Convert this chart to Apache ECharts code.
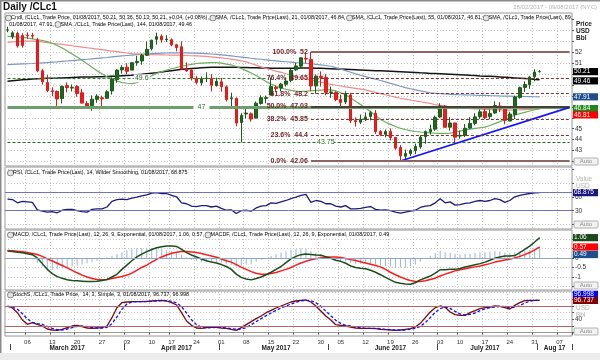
<!DOCTYPE html>
<html><head><meta charset="utf-8">
<script src="https://cdn.jsdelivr.net/npm/echarts@6/dist/echarts.min.js"></script>
<style>html,body{margin:0;padding:0;background:#fff}#c{width:600px;height:360px}</style>
</head><body><div id="c"></div>
<script>
const dates = ['02-28','03-01','03-02','03-03','03-06','03-07','03-08','03-09','03-10','03-13','03-14','03-15','03-16','03-17','03-20','03-21','03-22','03-23','03-24','03-27','03-28','03-29','03-30','03-31',
'04-03','04-04','04-05','04-06','04-07','04-10','04-11','04-12','04-13','04-17','04-18','04-19','04-20','04-21','04-24','04-25','04-26','04-27','04-28',
'05-01','05-02','05-03','05-04','05-05','05-08','05-09','05-10','05-11','05-12','05-15','05-16','05-17','05-18','05-19','05-22','05-23','05-24','05-25','05-26','05-30','05-31',
'06-01','06-02','06-05','06-06','06-07','06-08','06-09','06-12','06-13','06-14','06-15','06-16','06-19','06-20','06-21','06-22','06-23','06-26','06-27','06-28','06-29','06-30',
'07-03','07-05','07-06','07-07','07-10','07-11','07-12','07-13','07-14','07-17','07-18','07-19','07-20','07-21','07-24','07-25','07-26','07-27','07-28','07-31',
'08-01','08-02','08-03','08-04','08-07','08-08','08-09'];
const weekStarts = ['03-06','03-13','03-20','03-27','04-03','04-10','04-17','04-24','05-01','05-08','05-15','05-22','05-30','06-05','06-12','06-19','06-26','07-03','07-10','07-17','07-24','07-31','08-07'];
const monthStarts = ['03-01','04-03','05-01','06-01','07-03','08-01'];
const monthLabelDates = ['03-16','04-18','05-16','06-19','07-17','08-04'];
const monthLabelTexts = ['March 2017','April 2017','May 2017','June 2017','July 2017','Aug 17'];

const openP = [54.00,53.40,53.70,53.50,53.55,53.50,53.10,50.28,49.21,48.47,
48.41,47.75,48.93,48.71,48.85,48.28,47.31,47.11,47.68,47.83,
47.78,48.45,49.48,50.37,50.62,50.35,51.04,51.18,51.70,52.30,
53.16,53.44,53.13,53.12,52.66,52.48,50.43,50.35,49.59,49.19,
49.58,49.59,48.94,49.28,48.82,47.73,47.77,45.56,46.35,46.36,
45.97,47.30,47.77,48.08,48.77,48.71,49.06,49.41,50.38,50.71,
51.42,51.32,48.91,49.79,49.69,48.30,48.30,47.67,47.44,48.08,
45.74,45.60,45.83,46.11,46.41,44.74,44.49,44.75,44.21,43.28,
42.50,42.73,43.02,43.35,44.27,44.73,44.96,46.07,47.06,45.14,
45.53,44.33,44.40,45.06,45.49,46.09,46.58,46.11,46.44,47.07,
46.78,45.71,46.29,47.86,48.77,49.02,49.74,50.21];
const highP = [54.30,53.90,53.85,53.70,53.80,53.75,53.30,50.46,49.90,48.78,
48.49,48.95,49.23,49.04,48.99,48.64,47.53,48.04,48.15,48.02,
48.51,49.69,50.43,50.80,50.98,51.08,51.65,51.83,52.94,53.12,
53.76,53.61,53.53,53.25,52.75,52.98,51.07,50.40,49.82,49.77,
50.14,49.99,49.66,49.64,48.95,48.29,47.87,46.44,47.00,46.49,
47.49,48.05,48.03,49.66,48.95,49.19,49.63,50.47,51.00,51.51,
51.94,52.00,49.94,50.23,50.00,48.85,48.42,48.10,48.43,48.28,
46.03,46.29,46.49,46.63,46.71,44.87,44.94,45.03,44.25,43.52,
43.10,43.18,43.64,44.41,44.83,45.36,46.21,47.32,47.16,46.05,
45.54,44.83,45.43,46.05,46.42,46.76,46.87,46.73,47.50,47.43,
46.90,46.54,48.01,48.84,49.32,49.81,50.43,50.36];
const lowP = [53.80,53.20,52.40,52.40,53.20,53.20,50.16,49.03,48.34,47.97,
47.09,47.31,48.33,48.40,47.92,47.30,47.01,46.64,47.37,46.99,
47.70,48.12,49.19,50.03,49.98,50.33,50.75,50.84,51.65,52.14,
52.68,52.85,52.92,52.52,52.06,50.35,50.19,49.40,49.04,48.94,
49.26,48.40,48.85,48.37,47.49,47.06,45.23,43.76,45.94,45.65,
45.96,47.19,47.31,48.04,48.34,48.41,48.85,49.24,50.27,50.50,
51.01,48.45,48.19,48.84,48.05,47.83,47.51,47.02,47.25,45.52,
45.20,45.42,45.71,45.77,44.53,44.36,44.21,43.93,43.09,42.06,
42.25,42.51,42.67,43.17,43.63,44.46,44.81,45.97,45.11,44.82,
43.75,44.09,44.25,44.98,45.32,45.90,45.85,45.86,46.35,46.53,
45.40,45.67,45.89,47.74,48.35,48.64,49.34,50.13];
const closeP = [54.02,53.75,52.55,52.60,53.50,53.45,50.28,49.28,48.49,48.40,
47.72,48.86,48.75,48.78,48.22,47.34,47.04,47.70,47.97,47.73,
48.37,49.51,50.35,50.60,50.24,51.03,51.15,51.70,52.24,53.08,
53.40,53.11,53.18,52.65,52.41,50.44,50.27,49.62,49.23,49.56,
49.62,48.97,49.33,48.84,47.66,47.82,45.52,46.22,46.43,45.88,
47.33,47.83,47.84,48.85,48.66,49.07,49.35,50.33,50.73,51.47,
51.36,48.90,49.80,49.66,48.32,48.36,47.66,47.40,48.19,45.72,
45.64,45.83,46.08,46.46,44.73,44.46,44.74,44.20,43.23,42.53,
42.74,43.01,43.38,44.24,44.74,44.93,46.04,47.07,45.13,45.52,
44.23,44.40,45.04,45.49,46.08,46.54,46.02,46.40,47.12,46.79,
45.77,46.34,47.89,48.75,49.04,49.71,50.17,50.21];

const sma21 = [53.42,53.4,53.37,53.33,53.28,53.2,53.13,53.05,52.95,52.8,
52.6,52.37,52.1,51.82,51.54,51.25,50.93,50.62,50.3,50.02,
49.75,49.53,49.35,49.22,49.15,49.12,49.2,49.38,49.6,49.83,
50.05,50.2,50.35,50.47,50.59,50.7,50.79,50.87,50.95,50.99,
51.01,51.03,51.03,50.98,50.9,50.82,50.68,50.5,50.3,50.08,
49.85,49.58,49.3,49.08,48.89,48.72,48.6,48.5,48.44,48.4,
48.42,48.46,48.5,48.53,48.55,48.55,48.45,48.28,48.1,47.8,
47.5,47.2,46.9,46.55,46.2,45.85,45.62,45.4,45.2,45.04,
44.93,44.83,44.75,44.7,44.66,44.62,44.59,44.58,44.58,44.6,
44.68,44.78,44.89,44.96,45.03,45.09,45.15,45.3,45.47,45.65,
45.84,46.04,46.25,46.38,46.5,46.62,46.73,46.84];
const sma55 = [52.88,52.92,52.95,52.98,53.0,53.0,52.97,52.92,52.86,52.8,
52.75,52.69,52.63,52.57,52.51,52.45,52.39,52.33,52.27,52.21,
52.15,52.09,52.03,51.97,51.91,51.85,51.83,51.81,51.79,51.77,
51.75,51.74,51.73,51.72,51.71,51.7,51.68,51.66,51.64,51.62,
51.6,51.56,51.51,51.46,51.41,51.35,51.28,51.2,51.1,50.95,
50.8,50.65,50.5,50.38,50.26,50.15,50.02,49.9,49.77,49.65,
49.55,49.45,49.35,49.25,49.15,49.05,48.97,48.9,48.82,48.75,
48.68,48.61,48.54,48.43,48.32,48.21,48.1,47.99,47.88,47.78,
47.7,47.62,47.54,47.46,47.38,47.3,47.2,47.13,47.06,46.99,
46.94,46.9,46.87,46.84,46.81,46.78,46.76,46.74,46.72,46.71,
46.7,46.7,46.71,46.72,46.74,46.76,46.79,46.81];
const sma89 = [50.85,50.87,50.89,50.91,50.93,50.95,50.98,51.01,51.04,51.07,
51.1,51.14,51.18,51.22,51.26,51.3,51.34,51.38,51.42,51.46,
51.5,51.55,51.6,51.64,51.68,51.72,51.76,51.79,51.82,51.85,
51.88,51.9,51.91,51.92,51.93,51.93,51.92,51.9,51.89,51.87,
51.85,51.82,51.78,51.74,51.69,51.64,51.59,51.54,51.49,51.43,
51.38,51.34,51.29,51.24,51.2,51.15,51.11,51.07,51.03,51.0,
50.97,50.93,50.88,50.83,50.77,50.7,50.58,50.44,50.3,50.15,
50.0,49.88,49.76,49.64,49.52,49.4,49.27,49.14,49.01,48.88,
48.75,48.65,48.55,48.45,48.36,48.28,48.24,48.2,48.17,48.14,
48.12,48.1,48.09,48.08,48.06,48.05,48.04,48.02,48.01,47.99,
47.98,47.97,47.96,47.95,47.94,47.93,47.92,47.91];
const sma144 = [49.33,49.38,49.42,49.46,49.5,49.54,49.56,49.58,49.6,49.61,
49.62,49.64,49.66,49.68,49.7,49.71,49.72,49.73,49.74,49.75,
49.76,49.78,49.8,49.83,49.86,49.89,49.93,49.97,50.02,50.07,
50.12,50.18,50.24,50.3,50.36,50.42,50.46,50.5,50.53,50.56,
50.58,50.6,50.6,50.61,50.61,50.6,50.6,50.59,50.58,50.57,
50.56,50.55,50.54,50.53,50.52,50.51,50.51,50.52,50.53,50.54,
50.55,50.54,50.53,50.52,50.5,50.48,50.46,50.44,50.42,50.4,
50.38,50.36,50.34,50.32,50.3,50.28,50.26,50.24,50.22,50.2,
50.18,50.16,50.13,50.1,50.08,50.05,50.03,50.01,49.99,49.97,
49.95,49.93,49.9,49.87,49.85,49.82,49.8,49.78,49.76,49.73,
49.7,49.67,49.64,49.61,49.58,49.55,49.5,49.46];

const rsi = [55,54,47,50,49,48,32,29,27,28,
25.6,31,33,33,30,28,27,33,34,34,
38,50,54,55,54,57,59,62,64,68,
69,67,67,63,60,47,45,40,39,41,
41,38,40,35,31,32,24,30,31,29,
36,40,41,47,46,49,52,56,59,63,
65,48,52,50,45,45,40,38,41,34,
34,35,37,39,33,31,32,30,27,25,
27,29,31,37,40,41,47,56,47,49,
42,43,46,47,50,52,50,52,56,54,
48,52,60,63,65,67,68.5,68.875];

const macd = [0.36,0.34,0.3,0.27,0.22,0.17,0.0,-0.3,-0.6,-0.82,
-0.98,-1.07,-1.14,-1.18,-1.2,-1.22,-1.24,-1.24,-1.22,-1.18,
-1.13,-1.0,-0.86,-0.6,-0.38,-0.15,0.05,0.2,0.33,0.44,
0.53,0.58,0.62,0.62,0.6,0.45,0.28,0.15,0.05,-0.06,
-0.15,-0.22,-0.27,-0.35,-0.45,-0.6,-0.85,-1.02,-1.1,-1.15,
-1.08,-1.0,-0.88,-0.75,-0.6,-0.45,-0.25,-0.05,0.08,0.17,
0.2,0.18,0.15,0.14,0.06,-0.02,-0.12,-0.18,-0.28,-0.42,
-0.5,-0.54,-0.57,-0.65,-0.75,-0.88,-1.02,-1.15,-1.28,-1.33,
-1.36,-1.38,-1.3,-1.15,-1.05,-0.95,-0.8,-0.62,-0.62,-0.6,
-0.6,-0.55,-0.48,-0.42,-0.36,-0.3,-0.22,-0.12,-0.02,0.05,
0.1,0.1,0.12,0.28,0.45,0.62,0.83,1.06];
const macdSignal = [0.39,0.37,0.35,0.32,0.28,0.23,0.18,0.08,-0.05,-0.16,
-0.28,-0.4,-0.52,-0.65,-0.78,-0.9,-1.0,-1.08,-1.13,-1.15,
-1.13,-1.08,-1.03,-0.97,-0.9,-0.8,-0.65,-0.5,-0.38,-0.22,
-0.08,0.05,0.15,0.24,0.3,0.34,0.34,0.31,0.28,0.23,
0.16,0.1,0.03,-0.06,-0.15,-0.22,-0.35,-0.48,-0.6,-0.72,
-0.8,-0.85,-0.86,-0.82,-0.76,-0.68,-0.6,-0.5,-0.38,-0.27,
-0.18,-0.1,-0.04,0.0,0.03,0.05,0.05,0.02,-0.03,-0.09,
-0.14,-0.2,-0.27,-0.33,-0.4,-0.47,-0.6,-0.75,-0.88,-1.0,
-1.1,-1.18,-1.23,-1.24,-1.2,-1.13,-1.06,-0.95,-0.85,-0.76,
-0.68,-0.62,-0.57,-0.52,-0.47,-0.42,-0.36,-0.3,-0.22,-0.16,
-0.11,-0.07,0.0,0.08,0.17,0.28,0.42,0.57];
const macdHist = [-0.04,-0.04,-0.05,-0.05,-0.06,-0.08,-0.25,-0.45,-0.6,-0.62,
-0.6,-0.55,-0.5,-0.45,-0.4,-0.35,-0.28,-0.22,-0.15,-0.08,
0.03,0.1,0.2,0.3,0.4,0.45,0.5,0.52,0.53,0.52,
0.5,0.45,0.4,0.35,0.3,0.15,0.02,-0.1,-0.15,-0.2,
-0.22,-0.24,-0.24,-0.26,-0.3,-0.36,-0.45,-0.4,-0.35,-0.3,
-0.2,-0.1,0.0,0.1,0.2,0.28,0.35,0.42,0.47,0.5,
0.48,0.35,0.25,0.18,0.1,0.0,-0.08,-0.15,-0.2,-0.28,
-0.3,-0.3,-0.3,-0.32,-0.35,-0.4,-0.42,-0.45,-0.48,-0.5,
-0.5,-0.45,-0.35,-0.2,-0.05,0.1,0.25,0.38,0.3,0.25,
0.2,0.18,0.2,0.22,0.25,0.28,0.3,0.32,0.35,0.33,
0.28,0.25,0.3,0.35,0.38,0.4,0.45,0.49];

const stochK = [80,74,60,38,25,30,25,20,11,8,
7,10,15,20,22,18,14,13,14,15,
20,45,75,90,92,93,93,93,94,95,
96,97,95,90,83,60,35,22,14,13,
15,17,16,14,13,10,7,15,24,33,
42,50,60,67,74,80,86,92,95,97,
98,92,80,65,50,38,24,22,20,17,
14,13,13,13,12,10,9,8,7,8,
10,12,17,28,45,62,75,80,76,62,
54,52,52,60,66,72,75,77,80,79,
75,71,82,90,96,97,97,96.737];
const stochD = [79,77,70,57,41,31,27,25,19,13,
9,8,11,15,19,20,18,15,14,14,
16,27,47,70,86,92,93,93,93,94,
95,96,96,94,89,78,59,39,24,16,
14,15,16,16,14,12,10,11,15,24,
33,42,51,59,67,74,80,86,91,95,
97,96,90,79,65,51,37,28,22,20,
17,15,13,13,13,12,10,9,8,8,
8,10,13,19,30,45,61,72,77,73,
64,56,53,55,59,66,71,75,77,79,
78,75,76,81,89,94,97,96.998];

const priceTickLabels = [52,51,45,44,43];
const rsiTickLabels = [60,30];
const macdTickLabels = [0,-0.5,-1];
const stochTickLabels = [40];

const fibLevels = [52,49.65,48.2,47.03,45.85,44.4,42.06];
const fibNames = ['100.0%','76.4%','61.8%','50.0%','38.2%','23.6%','0.0%'];
const fibTexts = ['52','49.65','48.2','47.03','45.85','44.4','42.06'];
const supportLevels = [47,49.6,43.75];
const supportTexts = ['47','49.6','43.75'];
const trendStart = ['06-21',42.06];
const trendEnd = ['08-09',46.95];

const FONT = '"Liberation Sans", Arial, sans-serif';
const LEG = 5.4;
const chart = echarts.init(document.getElementById('c'));
const last = a => a[a.length-1];
const candle = openP.map((o,i)=>[o, closeP[i], lowP[i], highP[i]]);
const dotted = {color:'#c4c4c4', type:[1,2], width:1};

const grids = [
  {left:5,right:28,top:13,height:153},
  {left:5,right:28,top:167,height:62},
  {left:5,right:28,top:230,height:60},
  {left:5,right:28,top:291,height:45}
].map(g=>Object.assign(g,{show:true,borderColor:'#9a9a9a',borderWidth:1,backgroundColor:'#fff'}));

function xAx(i, showLabels){
  return {type:'category',gridIndex:i,data:dates,boundaryGap:true,
    axisLine:{show:showLabels,lineStyle:{color:'#9a9a9a'}},
    axisTick:{show:showLabels,interval:(k,v)=>weekStarts.includes(v),length:2,lineStyle:{color:'#555'}},
    axisLabel:{show:showLabels,interval:(k,v)=>weekStarts.includes(v),formatter:v=>v.slice(3),fontSize:6,color:'#333',margin:3,fontFamily:FONT},
    splitLine:{show:true,interval:(k,v)=>weekStarts.includes(v),lineStyle:dotted}};
}
function yAx(i,min,max,split,labels){
  return {type:'value',gridIndex:i,position:'right',min:min,max:max,splitNumber:split,scale:true,
    axisLine:{show:false},
    axisTick:{show:true,length:2,lineStyle:{color:'#555'}},
    axisLabel:{fontSize:6.5,color:'#333',margin:3,fontFamily:FONT,showMinLabel:false,showMaxLabel:false,
      formatter:v=>labels.some(l=>Math.abs(l-v)<1e-6)?String(v):''},
    splitLine:{show:true,lineStyle:dotted}};
}

const fibData = fibLevels.map((lv,i)=>{
  const solid = (i===0||i===6);
  const mid = (i===3);
  return [{coord:['05-25',lv],
    lineStyle:{color: mid?'#3a2424':(solid?'#8f6464':'#7a3434'), width: solid?2:(mid?1.5:1), type: (solid||mid)?'solid':[3,2]},
    label:{show:true,position:'start',distance:3,formatter:fibNames[i]+'  '+fibTexts[i],color:'#6e1e1e',fontSize:7,fontWeight:'bold',fontFamily:FONT}},
   {coord:['08-09',lv]}];
});
const supportData = [
  [{coord:['02-28',supportLevels[0]],lineStyle:{color:'#6e9e6e',width:3,type:'solid'}},{coord:['08-09',supportLevels[0]]}],
  [{coord:['02-28',supportLevels[1]],lineStyle:{color:'#2e7e2e',width:1,type:[3,2]}},{coord:['05-12',supportLevels[1]]}],
  [{coord:['02-28',supportLevels[2]],lineStyle:{color:'#1e6e1e',width:1,type:[3,2]}},{coord:['08-09',supportLevels[2]]}]
];
const trendData = [[{coord:trendStart,lineStyle:{color:'#1414ff',width:1.6,type:'solid'}},{coord:trendEnd}]];

const supportLabelAt = ['04-25','04-06','05-31'];

const option = {
  animation:false,
  backgroundColor:'#fff',
  textStyle:{fontFamily:FONT},
  grid:grids,
  xAxis:[xAx(0,false),xAx(1,false),xAx(2,false),xAx(3,true),
    {type:'category',gridIndex:3,data:dates,boundaryGap:true,position:'bottom',offset:8,
     axisLine:{show:false},
     axisTick:{show:true,interval:(k,v)=>monthStarts.includes(v),length:6,lineStyle:{color:'#444',width:1}},
     axisLabel:{interval:(k,v)=>monthLabelDates.includes(v),formatter:v=>monthLabelTexts[monthLabelDates.indexOf(v)],fontSize:6.5,fontWeight:'bold',color:'#222',margin:1,fontFamily:FONT},
     splitLine:{show:false}}],
  yAxis:[yAx(0,41.6,55.56,14,priceTickLabels),yAx(1,-9.3,124,4,rsiTickLabels),yAx(2,-1.68,1.46,6,macdTickLabels),yAx(3,-10,125,7,stochTickLabels)],
  series:[
    {type:'line',xAxisIndex:0,yAxisIndex:0,data:sma144,symbol:'none',lineStyle:{color:'#141414',width:1.5},z:3},
    {type:'line',xAxisIndex:0,yAxisIndex:0,data:sma89,symbol:'none',lineStyle:{color:'#7b98c2',width:1.2},z:3},
    {type:'line',xAxisIndex:0,yAxisIndex:0,data:sma55,symbol:'none',lineStyle:{color:'#f08c8c',width:1.2},z:3},
    {type:'line',xAxisIndex:0,yAxisIndex:0,data:sma21,symbol:'none',lineStyle:{color:'#6aae5e',width:1.2},z:3,
      markLine:{silent:true,symbol:['none','none'],animation:false,label:{show:false},data:supportData.concat(trendData)},
      markPoint:{silent:true,symbol:'rect',symbolSize:[16,8],itemStyle:{color:'#fff'},
        data:supportLevels.map((lv,i)=>({coord:[supportLabelAt[i],lv],label:{show:true,position:'inside',formatter:supportTexts[i],color:'#2a6a2a',fontSize:7,fontFamily:FONT}}))}},
    {type:'candlestick',xAxisIndex:0,yAxisIndex:0,data:candle,barWidth:3,z:4,
      itemStyle:{color:'#1b6b1b',color0:'#f01c1c',borderColor:'#1b5b1b',borderColor0:'#e01818',borderWidth:1},
      markLine:{silent:true,symbol:['none','none'],animation:false,data:fibData}},
    {type:'line',xAxisIndex:1,yAxisIndex:1,data:rsi,symbol:'none',lineStyle:{color:'#1c1c7c',width:1.3},
      markLine:{silent:true,symbol:['none','none'],animation:false,label:{show:false},lineStyle:{color:'#7272b8',width:1,type:'solid'},data:[{yAxis:70},{yAxis:30}]}},
    {type:'bar',xAxisIndex:2,yAxisIndex:2,data:macdHist,barWidth:1,itemStyle:{color:'#9cb3d4'},
      markLine:{silent:true,symbol:['none','none'],animation:false,label:{show:false},lineStyle:{color:'#8aa6c8',width:1.2,type:'solid'},data:[{yAxis:0}]}},
    {type:'line',xAxisIndex:2,yAxisIndex:2,data:macdSignal,symbol:'none',lineStyle:{color:'#ff1a1a',width:1.5}},
    {type:'line',xAxisIndex:2,yAxisIndex:2,data:macd,symbol:'none',lineStyle:{color:'#1a4f1a',width:1.5}},
    {type:'line',xAxisIndex:3,yAxisIndex:3,data:stochK,symbol:'none',lineStyle:{color:'#7a0a0a',width:1.3},
      markLine:{silent:true,symbol:['none','none'],animation:false,label:{show:false},lineStyle:{color:'#b46464',width:1,type:'solid'},data:[{yAxis:80},{yAxis:20}]}},
    {type:'line',xAxisIndex:3,yAxisIndex:3,data:stochD,symbol:'none',lineStyle:{color:'#1010ff',width:1.3,type:[3,2]}}
  ]
};
chart.setOption(option);

const icon = {width:5,height:5,borderRadius:2.5,borderColor:'#777',borderWidth:0.8,backgroundColor:'#e4e4e4'};
function legend(x,y,parts,colors){
  let text='', rich={i:icon};
  parts.forEach((p,k)=>{
    if(p==='@'){text+='{i| }';return;}
    const n='s'+k; rich[n]={color:colors[k],fontSize:LEG,fontFamily:FONT}; text+='{'+n+'|'+p+'}';
  });
  return {type:'text',x:x,y:y,z:50,style:{text:text,rich:rich,fontSize:LEG,fontFamily:FONT,verticalAlign:'middle'}};
}
const G = [];
G.push({type:'rect',shape:{x:0,y:0,width:600,height:1.5},style:{fill:'#8a8a8a'},z:60});
G.push({type:'rect',shape:{x:0,y:0,width:1.5,height:354},style:{fill:'#8a8a8a'},z:60});
G.push({type:'rect',shape:{x:0,y:353,width:600,height:7},style:{fill:'#ececec'},z:60});
G.push({type:'text',x:3,y:7,z:50,style:{text:'Daily /CLc1',fontSize:10,fontWeight:'bold',fill:'#111',fontFamily:FONT,verticalAlign:'middle'}});
G.push({type:'text',x:597,y:7,z:50,style:{text:'28/02/2017 - 09/08/2017 (NYC)',fontSize:6,fill:'#b4b4b4',fontFamily:FONT,align:'right',verticalAlign:'middle'}});
G.push(legend(6,18,['@','Cndl, /CLc1, Trade Price, 01/08/2017, 50.21, 50.36, 50.13, 50.21, ','+0.04, (+0.08%), ','@','SMA, /CLc1, Trade Price(Last), 21, 01/08/2017, 46.84, ','@','SMA, /CLc1, Trade Price(Last), 55, 01/08/2017, 46.81, ','@','SMA, /CLc1, Trade Price(Last), 89,'],
  [null,'#222','#1a3cff',null,'#2e8a2e',null,'#e01818',null,'#2a4a8a']));
G.push(legend(9,24.5,['01/08/2017, 47.91, ','@','SMA, /CLc1, Trade Price(Last), 144, 01/08/2017, 49.46'],['#2a4a8a',null,'#222']));
G.push(legend(8,173,['@','RSI, /CLc1, Trade Price(Last), 14, Wilder Smoothing, 01/08/2017, 68.875'],[null,'#1c1c6c']));
G.push(legend(8,235,['@','MACD, /CLc1, Trade Price(Last), 12, 26, 9, Exponential, 01/08/2017, 1.06, ','0.57',', ','@','MACDF, /CLc1, Trade Price(Last), 12, 26, 9, Exponential, 01/08/2017, 0.49'],[null,'#23304a','#ff1a1a','#23304a',null,'#23304a']));
G.push(legend(8,295,['@','StochS, /CLc1, Trade Price,  14, 3, Simple, 3, 01/08/2017, 96.737, ','96.998'],[null,'#7a1414','#1a1aff']));

[['Price',24],['USD',31],['Bbl',38]].forEach(t=>G.push({type:'text',x:576,y:t[1],z:50,style:{text:t[0],fontSize:6.5,fontWeight:'bold',fill:'#222',fontFamily:FONT,verticalAlign:'middle'}}));
[['Value',179],['USD',186],['USD',308],['Bbl',315]].forEach(t=>G.push({type:'text',x:576,y:t[1],z:50,style:{text:t[0],fontSize:6.5,fill:'#b0b0b0',fontFamily:FONT,verticalAlign:'middle'}}));
[166,229,290,336].forEach(b=>{
  G.push({type:'rect',shape:{x:574,y:b-8,width:24,height:7,r:1},style:{fill:'#f2f2f2',stroke:'#a0a0a0',lineWidth:0.8},z:50});
  G.push({type:'text',x:586,y:b-4.5,z:51,style:{text:'Auto',fontSize:6,fill:'#8a8a8a',fontFamily:FONT,align:'center',verticalAlign:'middle'}});
});
const boxes = [
  [0,last(closeP),'#000000',0],[0,last(sma144),'#000000',1],[0,last(sma89),'#1f4e8c',0],[0,last(sma21),'#1e8a1e',0],[0,last(sma55),'#ff0000',6],
  [1,last(rsi),'#16167e',0],
  [2,last(macd),'#1a4a1a',0],[2,last(macdSignal),'#ff0000',0],[2,last(macdHist),'#1f4e8c',6],
  [3,last(stochD),'#0000ff',-6],[3,last(stochK),'#800000',0]
];
boxes.forEach(b=>{
  const y = chart.convertToPixel({yAxisIndex:b[0]}, b[1]) + b[3];
  G.push({type:'rect',shape:{x:573,y:y-3.6,width:25,height:7.2},style:{fill:b[2]},z:55});
  G.push({type:'text',x:574,y:y,z:56,style:{text:String(b[1]),fontSize:6.5,fill:'#fff',fontFamily:FONT,verticalAlign:'middle'}});
});
chart.setOption({graphic:G});
</script></body></html>
